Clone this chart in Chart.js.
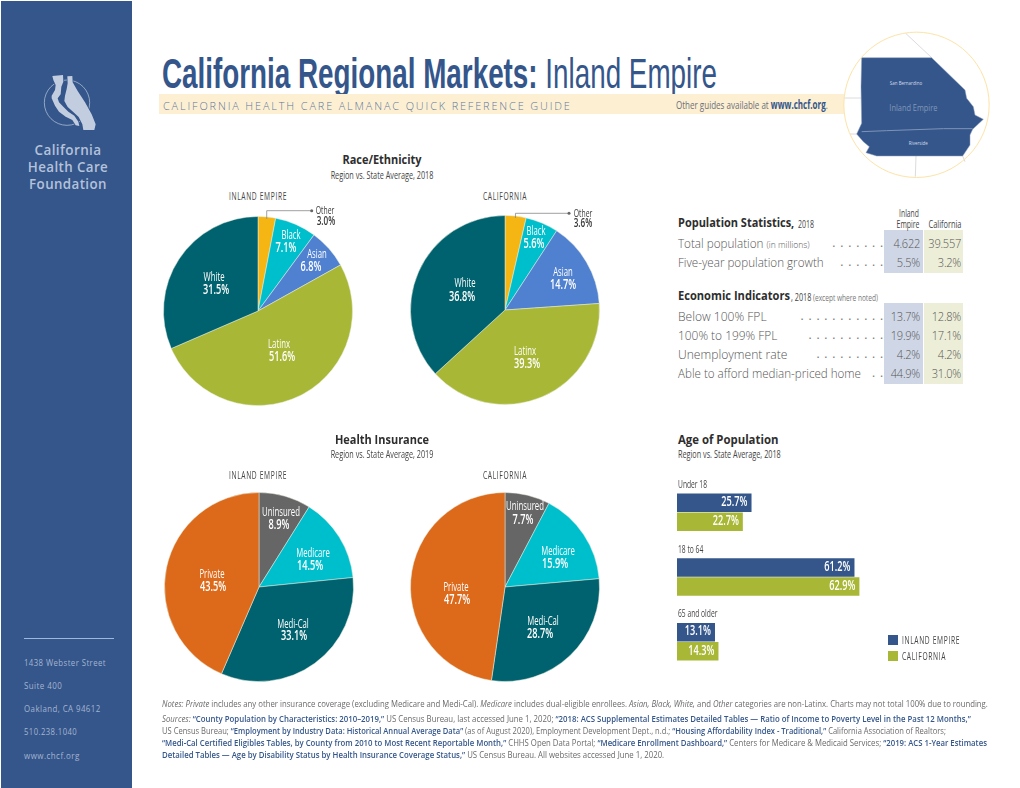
<!DOCTYPE html>
<html>
<head>
<meta charset="utf-8">
<title>California Regional Markets: Inland Empire</title>
<script src="https://cdn.jsdelivr.net/npm/chart.js@4"></script>
<style>
  html, body { margin: 0; padding: 0; background: #fff; }
  #page { position: relative; width: 1020px; height: 788px; overflow: hidden; font-family: "Open Sans", sans-serif; color: #4d4d4d; }
  #page div, #page canvas, #page svg { position: absolute; }
  .t { white-space: nowrap; line-height: 1; transform: translateY(-50%) scaleX(var(--k, 1)); transform-origin: 0 50%; }
  .c { transform: translate(-50%, -50%) scaleX(var(--k, 1)); transform-origin: 50% 50%; }
  .r { transform: translate(-100%, -50%) scaleX(var(--k, 1)); transform-origin: 100% 50%; }
  .head { font-weight: 700; font-size: 12.5px; color: #2e2e2e; }
  .sub { font-size: 10.5px; color: #444; }
  .caps { font-size: 10.5px; letter-spacing: 1px; color: #444; }
  .side { color: #a5b4d0; font-size: 9px; letter-spacing: .5px; }
  .org { font-weight: 600; color: #b5c2da; font-size: 13.5px; letter-spacing: .4px; }
  .row { font-size: 13px; font-weight: 300; color: #555; }
  .row small { font-size: 9.5px; }
  .num { font-size: 13px; font-weight: 300; color: #555; letter-spacing: -.3px; --k: .85; }
  .dots { font-size: 12px; color: #777; letter-spacing: 4.8px; }
  .note { font-size: 9.7px; color: #6a6a6a; }
  .note b { color: #34568b; font-weight: 600; }
</style>
</head>
<body>
<div id="page">
  <div style="left:1px;top:1px;width:131px;height:787px;background:#34568b"></div>
  <svg style="left:35px;top:65px" width="70" height="70" viewBox="0 0 210 210">
    <circle cx="96" cy="113" r="68" fill="none" stroke="#c3cde0" stroke-width="2"/>
    <g fill="#c3cde0" stroke="#34568b" stroke-width="4" paint-order="stroke">
      <path d="M52 33 L84 30 L85 50 L79 65 L77 88 L68 100 L72 112 L85 125 L100 140 L118 152 L130 170 L133 183 L122 181 L112 165 L92 155 L72 140 L60 122 L50 100 L50 92 L60 75 L62 60 L55 45 Z"/>
      <path d="M97 34 L112 33 L113 52 L128 78 L150 112 L170 148 L182 178 L178 195 L145 195 L142 178 L131 156 L114 140 L98 126 L88 108 L90 92 L95 72 L98 55 Z"/>
    </g>
  </svg>
  <div class="t c org" data-w="67" style="left:68px;top:151px">California</div>
  <div class="t c org" data-w="80" style="left:68px;top:168px">Health Care</div>
  <div class="t c org" data-w="78" style="left:68px;top:185px">Foundation</div>
  <div style="left:24px;top:638px;width:90px;height:1px;background:#9db8e0"></div>
  <div class="t side" data-w="82" style="left:24px;top:661.5px">1438 Webster Street</div>
  <div class="t side" data-w="38" style="left:24px;top:684.5px">Suite 400</div>
  <div class="t side" data-w="77" style="left:24px;top:707.5px">Oakland, CA 94612</div>
  <div class="t side" data-w="53" style="left:24px;top:731px">510.238.1040</div>
  <div class="t side" data-w="56" style="left:24px;top:754.5px">www.chcf.org</div>

  <div class="t" data-w="555" style="left:162px;top:73.5px;font-family:'Liberation Sans',sans-serif;font-size:42px;color:#34568b"><b>California Regional Markets:</b> Inland Empire</div>
  <div style="left:159px;top:94px;width:685px;height:20px;background:#fdf0d2"></div>
  <div class="t" data-w="409" style="left:163px;top:105px;font-size:11px;font-weight:300;letter-spacing:1.9px;color:#5f76a0">CALIFORNIA HEALTH CARE ALMANAC QUICK REFERENCE GUIDE</div>
  <div class="t" data-w="152" style="left:676px;top:105px;font-size:11.5px;color:#6a6f7a">Other guides available at <b style="color:#34568b">www.chcf.org</b>.</div>

  <svg style="left:660px;top:20px" width="360" height="170" viewBox="0 0 1080 510">
    <g stroke="#dcdcdc" stroke-width="3" fill="none">
      <path d="M737 40 L815 113"/><path d="M552 234 L605 234"/><path d="M570 342 L592 342"/><path d="M768 408 L766 470"/><path d="M908 408 L915 425"/>
    </g>
    <path fill="#34568b" stroke="#8ea0c0" stroke-width="1.5" d="M605 113 L815 113 L915 210 L920 235 L940 260 L945 285 L970 298 L938 328 L930 345 L930 375 L908 408 L650 408 L618 398 L628 380 L610 365 L590 342 L605 310 L603 200 Z"/>
    <path fill="none" stroke="#7f93b8" stroke-width="3" d="M605 335 L680 332 L850 326 L938 326"/>
    <circle cx="769.5" cy="254.5" r="218" fill="none" stroke="#fde3a7" stroke-width="3"/>
    <g font-family="Open Sans" text-anchor="middle">
      <text x="738" y="196" font-size="17" fill="#d5dcea" textLength="97" lengthAdjust="spacingAndGlyphs">San Bernardino</text>
      <text x="760" y="272" font-size="29" fill="#8296b8" textLength="144" lengthAdjust="spacingAndGlyphs">Inland Empire</text>
      <text x="775" y="376" font-size="17" fill="#d5dcea" textLength="57" lengthAdjust="spacingAndGlyphs">Riverside</text>
    </g>
  </svg>

  <div class="t c head" data-w="79" style="left:382px;top:160px">Race/Ethnicity</div>
  <div class="t c sub" data-w="103" style="left:382px;top:175px">Region vs. State Average, 2018</div>
  <div class="t c caps" data-w="58" style="left:258px;top:195.5px">INLAND EMPIRE</div>
  <div class="t c caps" data-w="44" style="left:505px;top:195.5px">CALIFORNIA</div>
  <canvas id="raceRegion" width="240" height="240" style="left:138px;top:191px"></canvas>
  <canvas id="raceState" width="240" height="240" style="left:385px;top:190px"></canvas>

  <div class="t c head" data-w="94" style="left:382px;top:440px">Health Insurance</div>
  <div class="t c sub" data-w="103" style="left:382px;top:454px">Region vs. State Average, 2019</div>
  <div class="t c caps" data-w="58" style="left:258px;top:475px">INLAND EMPIRE</div>
  <div class="t c caps" data-w="44" style="left:505px;top:475px">CALIFORNIA</div>
  <canvas id="insRegion" width="240" height="240" style="left:138.5px;top:466.5px"></canvas>
  <canvas id="insState" width="240" height="240" style="left:385px;top:466.5px"></canvas>

  <div style="left:884px;top:230px;width:39px;height:43px;background:#cfd7e6"></div>
  <div style="left:924px;top:230px;width:39px;height:43px;background:#eceed8"></div>
  <div style="left:884px;top:303px;width:39px;height:81px;background:#cfd7e6"></div>
  <div style="left:924px;top:303px;width:39px;height:81px;background:#eceed8"></div>
  <div class="t c sub" data-w="20" style="left:909px;top:213px">Inland</div>
  <div class="t c sub" data-w="23" style="left:908px;top:224px">Empire</div>
  <div class="t c sub" data-w="33" style="left:944.5px;top:224px">California</div>
  <div class="t head" data-w="116" style="left:678px;top:223px">Population Statistics,</div>
  <div class="t sub" data-w="16" style="left:798px;top:224px">2018</div>
  <div class="t head" data-w="112" style="left:678px;top:296px">Economic Indicators</div>
  <div class="t sub" data-w="20" style="left:791px;top:297px">, 2018</div>
  <div class="t sub" data-w="65" style="left:813px;top:297px;font-size:9px;color:#777">(except where noted)</div>
  <div id="stats"></div>

  <div class="t head" data-w="100" style="left:677.5px;top:440px">Age of Population</div>
  <div class="t sub" data-w="103" style="left:677.5px;top:454px">Region vs. State Average, 2018</div>
  <canvas id="ageBars" width="290" height="194" style="left:677px;top:480px"></canvas>
  <div style="left:888px;top:635px;width:10px;height:10px;background:#34568b"></div>
  <div style="left:888px;top:651px;width:10px;height:10px;background:#a8b735"></div>
  <div class="t caps" data-w="58" style="left:902px;top:640px">INLAND EMPIRE</div>
  <div class="t caps" data-w="44" style="left:902px;top:656px">CALIFORNIA</div>

  <div class="t note" data-w="826" style="left:162px;top:704px"><i>Notes: Private</i> includes any other insurance coverage (excluding Medicare and Medi-Cal). <i>Medicare</i> includes dual-eligible enrollees. <i>Asian, Black, White,</i> and <i>Other</i> categories are non-Latinx. Charts may not total 100% due to rounding.</div>
  <div class="t note" data-w="809" style="left:162px;top:718.5px"><i>Sources:</i> <b>“County Population by Characteristics: 2010–2019,”</b> US Census Bureau, last accessed June 1, 2020; <b>“2018: ACS Supplemental Estimates Detailed Tables — Ratio of Income to Poverty Level in the Past 12 Months,”</b></div>
  <div class="t note" data-w="784" style="left:162px;top:731px">US Census Bureau; <b>“Employment by Industry Data: Historical Annual Average Data”</b> (as of August 2020), Employment Development Dept., n.d.; <b>“Housing Affordability Index - Traditional,”</b> California Association of Realtors;</div>
  <div class="t note" data-w="825" style="left:162px;top:743px"><b>“Medi-Cal Certified Eligibles Tables, by County from 2010 to Most Recent Reportable Month,”</b> CHHS Open Data Portal; <b>“Medicare Enrollment Dashboard,”</b> Centers for Medicare &amp; Medicaid Services; <b>“2019: ACS 1-Year Estimates</b></div>
  <div class="t note" data-w="502" style="left:162px;top:755px"><b>Detailed Tables — Age by Disability Status by Health Insurance Coverage Status,”</b> US Census Bureau. All websites accessed June 1, 2020.</div>
</div>

<script>
// race / ethnicity pies
var raceLabels = ["Other", "Black", "Asian", "Latinx", "White"];
var raceRegion = [3.0, 7.1, 6.8, 51.6, 31.5];
var raceState = [3.6, 5.6, 14.7, 39.3, 36.8];
var raceColors = ["#f5b512", "#00bfcc", "#5080d0", "#a8b735", "#00626e"];

// health insurance pies
var insLabels = ["Uninsured", "Medicare", "Medi-Cal", "Private"];
var insRegion = [8.9, 14.5, 33.1, 43.5];
var insState = [7.7, 15.9, 28.7, 47.7];
var insColors = ["#666666", "#00bfcc", "#00626e", "#dc6a1a"];

// age bars
var ageGroups = ["Under 18", "18 to 64", "65 and older"];
var ageRegion = [25.7, 61.2, 13.1];
var ageState = [22.7, 62.9, 14.3];

// stats table
var statRows = ["Total population <small>(in millions)</small>", "Five-year population growth", "Below 100% FPL", "100% to 199% FPL", "Unemployment rate", "Able to afford median-priced home"];
var statRegion = ["4.622", "5.5%", "13.7%", "19.9%", "4.2%", "44.9%"];
var statState = ["39.557", "3.2%", "12.8%", "17.1%", "4.2%", "31.0%"];

// where the text of each slice sits, px from the pie centre: [name x, name y, value x, value y]
var raceRegionText = [[67, -100, 68, -89], [33, -75, 28, -62], [59, -56, 53, -43], [21, 34, 24, 47], [-44, -33, -42, -20]];
var raceStateText = [[78, -96, 78, -86], [31, -78, 29, -65], [58, -37, 58, -24], [20, 42, 22, 55], [-40, -26, -43, -12]];
var insRegionText = [[22, -74, 20, -61], [54, -33, 51, -20], [34, 38, 35, 50], [-47, -12, -46, 1]];
var insStateText = [[20, -80, 18, -66], [53, -35, 50, -22], [38, 35, 35, 48], [-49, 1, -48, 14]];

// leader line of the small "Other" slice: [corner y, end x]
var raceRegionLeader = [-100.3, 53.7];
var raceStateLeader = [-96.7, 64];

var nameNarrow = 0.62;
var valueNarrow = 0.68;

// condensed text, there is no condensed font on the box
function drawNarrow(ctx, text, x, y, font, align, squeeze) {
  ctx.save();
  ctx.translate(x, y - 0.5);
  ctx.scale(squeeze, 1);
  ctx.font = font;
  ctx.textAlign = align;
  ctx.textBaseline = "middle";
  ctx.fillText(text, 0, 0);
  ctx.restore();
}

var sliceText = {
  id: "sliceText",
  afterDatasetsDraw: function (chart, args, opts) {
    var ctx = chart.ctx;
    var arcs = chart.getDatasetMeta(0).data;
    var data = chart.data.datasets[0].data;
    var cx = arcs[0].x, cy = arcs[0].y;
    ctx.save();
    arcs.forEach(function (arc, i) {
      var p = opts.places[i];
      var outside = opts.leader && i == 0;
      ctx.fillStyle = outside ? "#3a3a3a" : "#fff";
      var size = outside ? 11 : 12.5;
      drawNarrow(ctx, chart.data.labels[i], cx + p[0], cy + p[1], "400 " + size + "px 'Open Sans'", "center", nameNarrow);
      drawNarrow(ctx, data[i].toFixed(1) + "%", cx + p[2], cy + p[3], "600 " + (size + 1) + "px 'Open Sans'", "center", valueNarrow);
    });
    if (opts.leader) {
      var a = (arcs[0].startAngle + arcs[0].endAngle) / 2;
      var r = arcs[0].outerRadius * 0.98;
      var sx = cx + Math.cos(a) * r, sy = cy + Math.sin(a) * r;
      ctx.strokeStyle = "#888";
      ctx.lineWidth = 0.8;
      ctx.beginPath();
      ctx.moveTo(sx, sy);
      ctx.lineTo(sx, cy + opts.leader[0]);
      ctx.lineTo(cx + opts.leader[1], cy + opts.leader[0]);
      ctx.stroke();
      ctx.fillStyle = "#666";
      ctx.beginPath();
      ctx.arc(cx + opts.leader[1], cy + opts.leader[0], 1.5, 0, Math.PI * 2);
      ctx.fill();
    }
    ctx.restore();
  }
};

function makePie(id, labels, values, colors, places, leader) {
  return new Chart(document.getElementById(id), {
    type: "pie",
    data: {
      labels: labels,
      datasets: [{ data: values, backgroundColor: colors, borderColor: "#e9eee0", borderWidth: 0.5, hoverOffset: 0 }]
    },
    options: {
      responsive: false,
      animation: false,
      layout: { padding: 25.25 },
      plugins: {
        legend: { display: false },
        tooltip: { enabled: false },
        sliceText: { places: places, leader: leader }
      }
    },
    plugins: [sliceText]
  });
}

makePie("raceRegion", raceLabels, raceRegion, raceColors, raceRegionText, raceRegionLeader);
makePie("raceState", raceLabels, raceState, raceColors, raceStateText, raceStateLeader);
makePie("insRegion", insLabels, insRegion, insColors, insRegionText);
makePie("insState", insLabels, insState, insColors, insStateText);

// bar values and the group name above each pair
var barText = {
  id: "barText",
  afterDatasetsDraw: function (chart) {
    var ctx = chart.ctx;
    ctx.save();
    chart.data.datasets.forEach(function (ds, d) {
      chart.getDatasetMeta(d).data.forEach(function (bar, i) {
        ctx.fillStyle = "#fff";
        drawNarrow(ctx, ds.data[i].toFixed(1) + "%", bar.x - 4, bar.y, "600 13.5px 'Open Sans'", "right", valueNarrow);
        if (d == 0) {
          ctx.fillStyle = "#444";
          drawNarrow(ctx, chart.data.labels[i], 1, bar.y - bar.height / 2 - 8, "400 10px 'Open Sans'", "left", 0.67);
        }
      });
    });
    ctx.restore();
  }
};

new Chart(document.getElementById("ageBars"), {
  type: "bar",
  data: {
    labels: ageGroups,
    datasets: [
      { label: "Inland Empire", data: ageRegion, backgroundColor: "#34568b" },
      { label: "California", data: ageState, backgroundColor: "#a8b735" }
    ]
  },
  options: {
    indexAxis: "y",
    responsive: false,
    animation: false,
    categoryPercentage: 0.59,
    barPercentage: 0.97,
    scales: {
      x: { display: false, min: 0, max: 100 },
      y: { display: false }
    },
    plugins: { legend: { display: false }, tooltip: { enabled: false } }
  },
  plugins: [barText]
});

// table rows, built from the arrays
var rowTops = [242.7, 262, 315.7, 334.7, 354, 373.3];
var rowWidths = [132, 146, 89, 99, 109, 183];
var rowDots = [7, 6, 11, 10, 9, 2];
var html = "";
for (var i = 0; i < statRows.length; i++) {
  html += '<div class="t row" data-w="' + rowWidths[i] + '" style="left:678px;top:' + rowTops[i] + 'px">' + statRows[i] + "</div>";
  html += '<div class="t r dots" style="left:888px;top:' + rowTops[i] + 'px">' + ".".repeat(rowDots[i]) + "</div>";
  html += '<div class="t r num" style="left:919.5px;top:' + rowTops[i] + 'px">' + statRegion[i] + "</div>";
  html += '<div class="t r num" style="left:961px;top:' + rowTops[i] + 'px">' + statState[i] + "</div>";
}
document.getElementById("stats").innerHTML = html;

// squeeze each text to the width it has on the sheet
document.querySelectorAll("[data-w]").forEach(function (el) {
  el.style.setProperty("--k", el.getAttribute("data-w") / el.offsetWidth);
});
</script>
</body>
</html>
